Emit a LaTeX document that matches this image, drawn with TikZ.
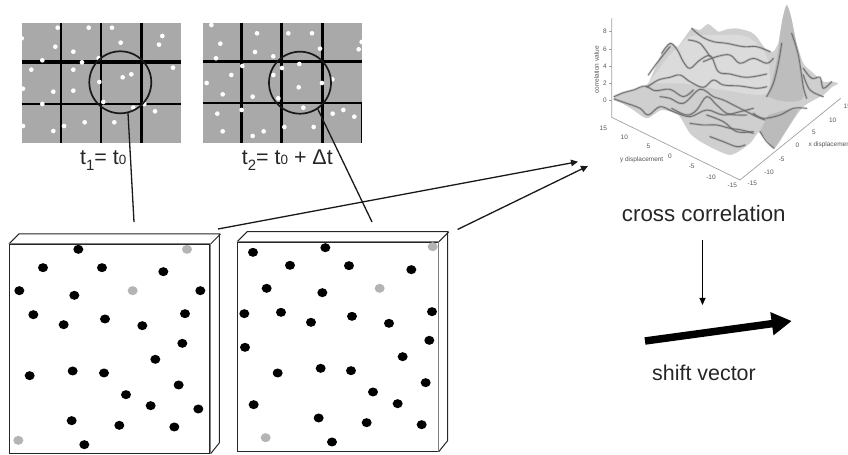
\documentclass[tikz,border=0pt]{standalone}
\usepackage{fontspec}
\setmainfont{Liberation Sans}
\usetikzlibrary{arrows.meta}
\definecolor{panelgray}{HTML}{A9A9A9}
\definecolor{dotgray}{HTML}{B4B4B4}
\definecolor{surf}{HTML}{CFCFCF}
\definecolor{surfpeak}{HTML}{B9B9B9}
\definecolor{ridge}{HTML}{666666}
\definecolor{axisgray}{HTML}{A0A0A0}
\definecolor{ticktext}{HTML}{555555}
\tikzset{
  zoomed/.style={x=0.33333bp,y=-0.33333bp},
  panelbox/.style={fill=panelgray,draw=none},
  gridthick/.style={line width=2.4bp,black},
  gridwide/.style={line width=3.3bp,black},
  lens/.style={circle,draw=black!90,line width=1.7bp,minimum size=62bp,inner sep=0pt},
  slab/.style={rectangle,draw=black!85,line width=1.1bp,fill=white,minimum width=200.5bp,minimum height=208.8bp,inner sep=0pt},
  slabedge/.style={draw=black!85,line width=1bp},
  slabfront/.style={draw=gray,line width=1.1bp},
  connector/.style={draw=black!90,line width=1.3bp},
  flow/.style={draw=black!90,line width=1.3bp,-{Triangle[length=7bp,width=6.5bp]}},
  thinflow/.style={draw=black,line width=0.9bp,-{Triangle[length=7bp,width=6bp]}},
  bigflow/.style={draw=black,line width=7.5bp,-{Triangle[length=20bp,width=22bp]}},
  caption/.style={font=\fontsize{21.5}{23}\selectfont,inner sep=0pt,text=black!85},
  bigcaption/.style={font=\fontsize{22.4}{24}\selectfont,inner sep=0pt,text=black!85},
  tick/.style={font=\fontsize{6.5}{7}\selectfont,text=ticktext,inner sep=0pt},
  ridgeback/.style={draw=ridge,line width=2.4bp,opacity=0.25,line cap=round},
  ridgeline/.style={draw=ridge,line width=0.9bp,opacity=0.85,line cap=round},
}
\newcommand{\lowsub}[1]{\raisebox{-0.28em}{\fontsize{15}{15}\selectfont #1}}
\newcommand{\smallsub}[1]{{\fontsize{13.5}{14}\selectfont #1}}
\newcommand{\ridgepath}[1]{%
  \draw[ridgeback] plot[smooth,tension=0.6] coordinates {#1};
  \draw[ridgeline] plot[smooth,tension=0.6] coordinates {#1};}
\begin{document}
\begin{tikzpicture}[x=1bp,y=-1bp]
\useasboundingbox (0,0) rectangle (848,455);
\clip (0,0) rectangle (848,455);
% ---------- panel 1
\begin{scope}[zoomed]
\fill[panelbox] (65,70) rectangle (543,428);
\draw[gridthick] (183,70) -- (183,428);
\draw[gridthick] (303,70) -- (303,428);
\draw[gridthick] (424,70) -- (424,428);
\draw[gridwide] (65,186) -- (543,186);
\draw[line width=2.8bp] (65,312) -- (543,312);
\foreach \a/\b in {173/83,266/83,336/83,65/115,487/108,477/134,362/128,166/140,220/155,127/181,246/187,296/175,94/209,220/209,519/203,394/223,368/232,298/246,69/266,160/275,220/272,127/312,310/306,400/323,433/312,465/334,69/378,160/393,192/378,254/367,343/367}
  \fill[white] (\a,\b) circle[radius=7];
\end{scope}
% ---------- panel 2
\begin{scope}[shift={(190,0)},zoomed]
\fill[panelbox] (38,70) rectangle (516,428);
\draw[gridthick] (154,70) -- (154,428);
\draw[gridthick] (275,70) -- (275,428);
\draw[gridthick] (397,70) -- (397,428);
\draw[line width=1bp] (514,310) -- (514,428);
\draw[gridwide] (38,185) -- (516,185);
\draw[line width=2.8bp] (38,309) -- (516,309);
\foreach \a/\b in {64/75,201/100,295/100,366/100,91/131,515/126,506/148,390/146,195/156,250/169,78/175,157/198,276/204,328/192,250/225,124/225,50/249,396/249,427/238,326/262,98/283,188/290,265/295,340/323,155/330,82/341,428/341,460/330,493/350,283/381,371/381,98/394,188/408,221/394}
  \fill[white] (\a,\b) circle[radius=7];
\end{scope}
\node[lens] (lensA) at (120.3,82.3) {};
\node[lens] (lensB) at (300,82.7) {};
\node[caption,anchor=base west] (capA) at (80,165) {t\lowsub{1}= t\smallsub{0}};
\node[caption,anchor=base west] (capB) at (241.7,165) {t\lowsub{2}= t\smallsub{0} + Δt};
% ---------- slab 1
\node[slab] (boxA) at (109.75,348.9) {};
\draw[slabedge] (boxA.north west) -- ++(10,-10) -- ++(200.5,0) -- ++(0,208.8) -- (boxA.south east);
\draw[slabedge] (boxA.north east) -- ++(10,-10);
\draw[slabfront] (boxA.north west) -- (boxA.north east) -- (boxA.south east);
\begin{scope}[shift={(0,225)},zoomed]
\foreach \a/\b in {235/73,129/128,306/128,490/140,58/197,223/211,601/197,100/269,191/299,315/282,427/302,555/266,547/355,466/403,89/452,218/438,312/444,536/480,378/509,452/542,595/552,215/587,358/601,523/606,253/659}
  \fill[black] (\a,\b) ellipse[x radius=15,y radius=13.5];
\foreach \a/\b in {561/73,398/197,55/646}
  \fill[dotgray] (\a,\b) ellipse[x radius=15,y radius=13.5];
\end{scope}
% ---------- slab 2
\node[slab] (boxB) at (338,346.7) {};
\draw[slabedge] (boxB.north west) -- ++(10,-10) -- ++(200.5,0) -- ++(0,208.8) -- (boxB.south east);
\draw[slabedge] (boxB.north east) -- ++(10,-10);
\draw[slabfront] (boxB.north west) -- (boxB.north east) -- (boxB.south east);
\begin{scope}[shift={(225,225)},zoomed]
\foreach \a/\b in {84/82,301/68,195/121,372/122,559/134,125/190,292/203,58/266,168/262,258/292,381/274,492/295,621/260,613/346,60/367,533/395,158/444,287/430,378/437,602/473,444/501,518/536,86/539,281/579,425/593,590/599,321/651}
  \fill[black] (\a,\b) ellipse[x radius=15,y radius=13.5];
\foreach \a/\b in {623/65,464/190,122/638}
  \fill[dotgray] (\a,\b) ellipse[x radius=15,y radius=13.5];
\end{scope}
% ---------- surface plot
\begin{scope}[shift={(590,0)},zoomed]
\draw[axisgray,line width=0.7bp] (65,55) -- (65,352) -- (450,540) -- (752,295);
\foreach \y in {93,148,198,250,300} \draw[axisgray,line width=0.5bp] (65,\y) -- (58,\y);
\fill[surf] plot[smooth,tension=0.35] coordinates {(72,290) (100,278) (130,270) (165,258) (175,250) (195,205) (215,160) (240,130) (262,140) (280,118) (305,85) (330,90) (355,72) (385,95) (410,88) (440,85) (480,95) (500,110) (525,145) (550,155) (565,130)}
  -- plot[smooth,tension=0.4] coordinates {(565,130) (577,60) (590,15) (603,50) (620,130) (640,190) (665,215) (700,245) (725,245) (745,250) (725,262) (700,285) (640,320) (590,390) (552,445) (510,395) (480,430) (420,465) (340,430) (300,400) (265,345) (215,330) (170,355) (130,330) (100,312) (72,300)} -- cycle;
\fill[surfpeak,opacity=0.8] plot[smooth,tension=0.4] coordinates {(535,290) (560,180) (577,60) (590,15) (603,50) (622,150) (640,290) (600,305) (560,300)} -- cycle;
\fill[surfpeak,opacity=0.9] (510,395) -- (535,345) -- (585,330) -- (625,330) -- (590,390) -- (552,445) -- cycle;
\fill[white,opacity=0.25] plot[smooth,tension=0.5] coordinates {(175,250) (240,165) (300,110) (380,105) (470,110) (530,170) (530,280) (400,270) (280,250)} -- cycle;
% ridges
\ridgepath{(72,290) (100,278) (130,270) (165,258) (195,272) (240,268) (280,290) (310,270)}
\ridgepath{(72,297) (110,310) (150,325) (175,345) (210,320) (250,335) (300,350) (350,330) (400,345) (450,335) (490,325)}
\ridgepath{(170,262) (205,240) (240,232) (270,225) (300,245) (340,262) (370,240) (400,255) (450,258) (500,265) (530,260)}
\ridgepath{(215,160) (240,130) (262,150) (280,185) (300,205) (330,180) (362,168) (385,215) (420,222) (470,232) (530,222)}
\ridgepath{(175,225) (200,190) (240,140)}
\ridgepath{(305,85) (335,110) (370,125) (410,130) (460,140) (500,140) (540,155)}
\ridgepath{(340,185) (380,170) (420,165) (450,190) (490,175) (530,190) (550,175)}
\ridgepath{(295,120) (330,130) (360,170)}
\ridgepath{(210,290) (240,295) (280,310) (330,268) (370,290) (400,300) (440,320) (470,335) (500,350) (525,360)}
\ridgepath{(245,325) (290,345) (320,330) (350,290) (380,315) (410,340) (440,345) (470,345)}
\ridgepath{(300,370) (340,375) (380,375) (420,385) (455,390) (490,400)}
\ridgepath{(360,410) (400,425) (440,440) (465,435)}
\ridgepath{(350,345) (400,365) (440,395) (490,395)}
\ridgepath{(490,340) (520,355) (570,345) (610,325) (650,325)}
\ridgepath{(640,205) (665,235) (690,232) (700,265) (725,245)}
\ridgepath{(640,225) (660,270) (700,290)}
\ridgepath{(530,290) (550,250) (565,190) (575,130)}
\ridgepath{(605,100) (625,165) (640,260) (650,295)}
\ridgepath{(510,395) (530,425) (552,445)}
% axis labels
\foreach \t/\a/\b in {8/45/93,6/45/148,4/45/198,2/45/250,0/45/300,15/40/385,10/103/413,5/175/440,0/240/468,-5/305/500,-10/363/532,-15/427/555,-15/487/550,-10/537/518,-5/575/477,0/622/437,5/672/397,10/728/362,15/772/318}
  \node[tick] at (\a,\b) {\t};
\node[tick,rotate=90] (zlab) at (20,210) {correlation value};
\node[tick,anchor=west] (xlab) at (655,435) {x displacement};
\node[tick] (ylab) at (155,480) {y displacement};
\end{scope}
% ---------- labels
\node[bigcaption] (cross) at (703.8,214) {cross correlation};
\node[bigcaption,font=\fontsize{21.5}{23}\selectfont] (shift) at (704,373) {shift vector};
% ---------- connectors
\coordinate (endA) at (134,222);
\coordinate (endB) at (372,222);
\coordinate (srcA) at (218,229);
\coordinate (srcB) at (457.5,229.5);
\coordinate (plotA) at (578,161.7);
\coordinate (plotB) at (588,166);
\coordinate (downA) at (702.5,240);
\coordinate (downB) at (702.5,305);
\coordinate (shiftA) at (645,341);
\coordinate (shiftB) at (791.7,321);
\draw[connector] (lensA.-76) -- (endA);
\draw[connector] (lensB.-56) -- (endB);
\draw[flow] (srcA) -- (plotA);
\draw[flow] (srcB) -- (plotB);
\draw[thinflow] (downA) -- (downB);
\draw[bigflow] (shiftA) -- (shiftB);
\end{tikzpicture}
\end{document}
